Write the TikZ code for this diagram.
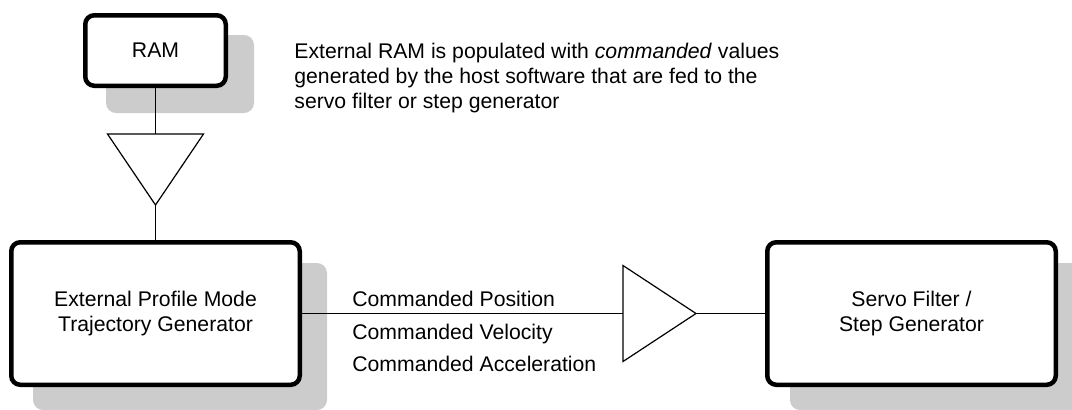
\documentclass[tikz,border=0pt]{standalone}
\usepackage{fontspec}
\setmainfont{Liberation Sans}
\pgfdeclarelayer{background}
\pgfsetlayers{background,main}
\definecolor{shadowgray}{HTML}{CCCCCC}
\begin{document}
\begin{tikzpicture}[x=0.5pt,y=-0.5pt,
  box/.style={draw, line width=2.25pt, rounded corners=4.5pt, fill=white, align=center,
    font=\fontsize{10.6}{12.5}\selectfont, inner sep=0pt},
  shadowbox/.style={fill=shadowgray, rounded corners=5pt},
  wire/.style={line width=0.6pt},
  amp/.style={draw, line width=0.6pt, fill=white, line join=miter},
  lbl/.style={anchor=base west, inner sep=0pt, font=\fontsize{10.6}{12.5}\selectfont}]
\useasboundingbox (0,0) rectangle (1072,409);
\clip (0,0) rectangle (1072,409);

% boxes
\node[box, minimum width=70.25pt, minimum height=35.25pt] (ram) at (155.5,50.5) {RAM};
\node[box, minimum width=144.25pt, minimum height=71.25pt] (epm) at (155.5,313.5)
  {External Profile Mode\\Trajectory Generator};
\node[box, minimum width=144.25pt, minimum height=71.25pt] (servo) at (911.5,313.5)
  {Servo Filter /\\Step Generator};

% shadows
\begin{pgfonlayer}{background}
\fill[shadowbox] ([shift={(23,22)}]ram.north west) rectangle ([shift={(26,25)}]ram.south east);
\fill[shadowbox] ([shift={(24,23)}]epm.north west) rectangle ([shift={(25,23)}]epm.south east);
\fill[shadowbox] ([shift={(25,23)}]servo.north west) rectangle ([shift={(25,23)}]servo.south east);
\end{pgfonlayer}

% triangle between RAM and trajectory generator
\coordinate (t1in) at (155.5,134);
\coordinate (t1out) at (155.5,205);
\draw[amp] (107.5,134) -- (203.5,134) -- (t1out) -- cycle;
\draw[wire] (ram.south) -- (t1in);
\draw[wire] (t1out) -- (epm.north);

% triangle between generator and servo filter
\coordinate (t2in) at (623,313.5);
\coordinate (t2out) at (696,313.5);
\draw[amp] (623,265.5) -- (t2out) -- (623,361.5) -- cycle;
\draw[wire] (epm.east) -- (t2in);
\draw[wire] (t2out) -- (servo.west);

% signal labels
\node[lbl] (lpos) at (352,306) {Commanded Position};
\node[lbl] (lvel) at (352,339) {Commanded Velocity};
\node[lbl] (lacc) at (352,371) {Commanded Acceleration};

% annotation
\node[lbl] (n1) at (294,58) {External RAM is populated with \textit{commanded} values};
\node[lbl] (n2) at (294,83) {generated by the host software that are fed to the};
\node[lbl] (n3) at (294,108) {servo filter or step generator};
\end{tikzpicture}
\end{document}
